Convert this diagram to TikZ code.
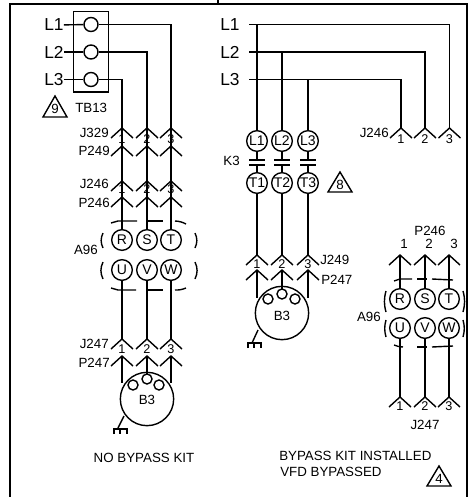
\documentclass[tikz,border=0pt]{standalone}
\usepackage{fontspec}
\setmainfont{Liberation Sans}
\tikzset{
  wire/.style={line width=1.05pt},
  frameline/.style={line width=1.3pt},
  term/.style={circle,draw,line width=1.05pt,minimum size=15.5pt,inner sep=0pt,font=\fontsize{10.5}{12}\selectfont},
  smallterm/.style={circle,draw,line width=1.05pt,minimum size=7.5pt,inner sep=0pt,fill=white},
  line label/.style={inner sep=0pt,font=\fontsize{13}{15}\selectfont},
  tag/.style={inner sep=0pt,font=\fontsize{10}{12}\selectfont},
  pinno/.style={inner sep=0pt,font=\fontsize{9.5}{11}\selectfont},
  warn/.style={draw,line width=1.05pt,line join=miter},
  kitdash/.style={line width=1.05pt}
}
% one connector leg: apex named #1, wings below it
\newcommand{\chevron}[3]{%
  \coordinate (#1) at (#2,#3);
  \draw[wire] (#2-11,#3+10) -- (#1) -- (#2+11,#3+10);
}
\begin{document}
\begin{tikzpicture}[x=0.75pt,y=-0.75pt]
\useasboundingbox (0,0) rectangle (474,497);
% frame
\draw[frameline] (10,497) -- (10,4) -- (467,4) -- (467,497);
\draw[wire] (218,0) -- (218,4);

% no bypass kit
\draw[wire] (73.5,11.5) rectangle (108.5,92);
\node[term,minimum size=10.5pt] (tb1) at (91,24.5) {};
\node[term,minimum size=10.5pt] (tb2) at (91,52) {};
\node[term,minimum size=10.5pt] (tb3) at (91,79.5) {};
\node[line label] (la1) at (54,25) {L1};
\node[line label] (la2) at (54,52) {L2};
\node[line label] (la3) at (54,79.5) {L3};
\draw[wire] (la1) -- (tb1);
\draw[wire] (la2) -- (tb2);
\draw[wire] (la3) -- (tb3);
\draw[warn] (55,96) -- (67,117) -- (43,117) -- cycle;
\node[tag] (n9) at (55,109) {9};
\node[tag,anchor=west] (tb13) at (75,108) {TB13};

\chevron{ja1}{122}{128}
\chevron{ja2}{147}{128}
\chevron{ja3}{171}{128}
\chevron{pa1}{122}{146}
\chevron{pa2}{147}{146}
\chevron{pa3}{171}{146}
\chevron{jb1}{122}{181}
\chevron{jb2}{147}{181}
\chevron{jb3}{171}{181}
\chevron{pb1}{122}{197}
\chevron{pb2}{147}{197}
\chevron{pb3}{171}{197}
\chevron{jc1}{122}{339}
\chevron{jc2}{147}{339}
\chevron{jc3}{171}{339}
\chevron{pc1}{122}{356}
\chevron{pc2}{147}{356}
\chevron{pc3}{171}{356}
\draw[wire] (tb1) -| (ja3);
\draw[wire] (tb2) -| (ja2);
\draw[wire] (tb3) -| (ja1);
\draw[wire] (ja1) -- (pb1);
\draw[wire] (ja2) -- (pb2);
\draw[wire] (ja3) -- (pb3);
\node[pinno] at (122,139) {1};
\node[pinno] at (147,139) {2};
\node[pinno] at (171,139) {3};
\node[pinno] at (122,189) {1};
\node[pinno] at (147,189) {2};
\node[pinno] at (171,189) {3};
\node[pinno] at (122,349) {1};
\node[pinno] at (147,349) {2};
\node[pinno] at (171,349) {3};
\node[tag,anchor=east] at (109,133) {J329};
\node[tag,anchor=east] at (110,151) {P249};
\node[tag,anchor=east] at (109,184) {J246};
\node[tag,anchor=east] at (110,203) {P246};
\node[tag,anchor=east] at (109,344) {J247};
\node[tag,anchor=east] at (110,363) {P247};

\node[term] (r1) at (122,240) {R};
\node[term] (s1) at (147,240) {S};
\node[term] (t1) at (171,240) {T};
\node[term] (u1) at (122,270) {U};
\node[term] (v1) at (147,270) {V};
\node[term] (w1) at (171,270) {W};
\draw[wire] (pb1) -- (r1);
\draw[wire] (pb2) -- (s1);
\draw[wire] (pb3) -- (t1);
\draw[wire] (u1) -- (jc1);
\draw[wire] (v1) -- (jc2);
\draw[wire] (w1) -- (jc3);
\node[tag,anchor=east] (a96a) at (98,250) {A96};
\draw[kitdash] (111,223) to[bend left=10] (118,221) -- (137,221);
\draw[kitdash] (147,221) -- (163,221);
\draw[kitdash] (175,221) to[bend left=12] (186,224);
\draw[kitdash] (103,233) to[bend right=25] (103,248);
\draw[kitdash] (103,262) to[bend right=25] (103,279);
\draw[kitdash] (195,233) to[bend left=25] (195,248);
\draw[kitdash] (195,262) to[bend left=25] (195,279);
\draw[kitdash] (111,288) to[bend right=10] (118,290) -- (136,290);
\draw[kitdash] (147,290) -- (163,290);
\draw[kitdash] (175,290) to[bend right=12] (186,288);

\node[circle,draw,wire,minimum size=40pt,inner sep=0pt] (m1) at (147,399) {};
\node[tag] (b3a) at (147,400) {B3};
\draw[wire] (pc1) -- (122,383);
\draw[wire] (pc2) -- (147,375);
\draw[wire] (pc3) -- (171,383);
\node[smallterm] (ma1) at (133,385) {};
\node[smallterm] (ma2) at (147,379) {};
\node[smallterm] (ma3) at (159,385) {};
\draw[wire] (124,416) -- (118,428);
\draw[wire] (114,434) -- (114,429) -- (127,429) -- (127,434) (120,429) -- (120,434);
\node[tag] at (144,458) {NO BYPASS KIT};

% bypass kit installed
\node[line label] (lb1) at (230,25) {L1};
\node[line label] (lb2) at (230,52) {L2};
\node[line label] (lb3) at (230,79.5) {L3};
\coordinate (st1) at (249,24.5);
\coordinate (st2) at (249,52);
\coordinate (st3) at (249,79.5);
\chevron{jd1}{401}{128}
\chevron{jd2}{425}{128}
\chevron{jd3}{449.5}{128}
\draw[wire] (st1) -| (jd3);
\draw[wire] (st2) -| (jd2);
\draw[wire] (st3) -| (jd1);
\node[pinno] at (401,139) {1};
\node[pinno] at (425,139) {2};
\node[pinno] at (449.5,139) {3};
\node[tag,anchor=east] at (389,133) {J246};

\node[term] (l1) at (257,141) {L1};
\node[term] (l2) at (282,141) {L2};
\node[term] (l3) at (308,141) {L3};
\node[term] (c1) at (257,183) {T1};
\node[term] (c2) at (282,183) {T2};
\node[term] (c3) at (308,183) {T3};
\coordinate (k1a) at (257,160);
\coordinate (k1b) at (257,165);
\coordinate (k2a) at (282,160);
\coordinate (k2b) at (282,165);
\coordinate (k3a) at (308,160);
\coordinate (k3b) at (308,165);
\draw[wire] (st1 -| l1) -- (l1);
\draw[wire] (st2 -| l2) -- (l2);
\draw[wire] (st3 -| l3) -- (l3);
\draw[wire] (l1) -- (k1a) (k1b) -- (c1);
\draw[wire] (l2) -- (k2a) (k2b) -- (c2);
\draw[wire] (l3) -- (k3a) (k3b) -- (c3);
\draw[wire] (249,160) -- (265,160) (249,165) -- (265,165);
\draw[wire] (274,160) -- (290,160) (274,165) -- (290,165);
\draw[wire] (300,160) -- (316,160) (300,165) -- (316,165);
\node[tag,anchor=east] at (240,161) {K3};
\draw[warn] (340,172) -- (352,192) -- (328,192) -- cycle;
\node[tag] (n8) at (340,185) {8};

\chevron{je1}{257}{255}
\chevron{je2}{282}{255}
\chevron{je3}{308}{255}
\chevron{pe1}{257}{270}
\chevron{pe2}{282}{270}
\chevron{pe3}{308}{270}
\draw[wire] (c1) -- (je1);
\draw[wire] (c2) -- (je2);
\draw[wire] (c3) -- (je3);
\node[pinno] at (257,264) {1};
\node[pinno] at (282,264) {2};
\node[pinno] at (308,264) {3};
\node[tag,anchor=west] at (320,260) {J249};
\node[tag,anchor=west] at (321,280) {P247};
\node[circle,draw,wire,minimum size=40pt,inner sep=0pt] (m2) at (282,313) {};
\node[tag] (b3b) at (282,316) {B3};
\draw[wire] (pe1) -- (257,298);
\draw[wire] (pe2) -- (282,290);
\draw[wire] (pe3) -- (308,298);
\node[smallterm] (mb1) at (268,299) {};
\node[smallterm] (mb2) at (282,294) {};
\node[smallterm] (mb3) at (295,299) {};
\draw[wire] (258,330) -- (252,343);
\draw[wire] (248,348) -- (248,343) -- (261,343) -- (261,348) (254,343) -- (254,348);

\node[tag] at (430,231) {P246};
\node[tag] at (404,244) {1};
\node[tag] at (429,244) {2};
\node[tag] at (454,244) {3};
\chevron{pf1}{400}{255}
\chevron{pf2}{425}{255}
\chevron{pf3}{449}{255}
\node[term] (r2) at (400,299) {R};
\node[term] (s2) at (425,299) {S};
\node[term] (t2) at (449,299) {T};
\node[term] (u2) at (400,328) {U};
\node[term] (v2) at (425,328) {V};
\node[term] (w2) at (449,328) {W};
\chevron{jf1}{400}{397}
\chevron{jf2}{425}{397}
\chevron{jf3}{449}{397}
\draw[wire] (pf1) -- (r2);
\draw[wire] (pf2) -- (s2);
\draw[wire] (pf3) -- (t2);
\draw[wire] (u2) -- (jf1);
\draw[wire] (v2) -- (jf2);
\draw[wire] (w2) -- (jf3);
\node[pinno] at (400,406) {1};
\node[pinno] at (425,406) {2};
\node[pinno] at (449,406) {3};
\node[tag] at (425,425) {J247};
\node[tag,anchor=east] at (381,317) {A96};
\draw[kitdash] (394,281) to[bend left=10] (400,279) -- (412,279);
\draw[kitdash] (417,279) -- (427,279);
\draw[kitdash] (432,279) -- (453,280);
\draw[kitdash] (386,291) to[bend right=15] (386,312);
\draw[kitdash] (386,320) to[bend right=15] (386,337);
\draw[kitdash] (463,291) to[bend left=15] (463,312);
\draw[kitdash] (463,320) to[bend left=15] (463,337);
\draw[kitdash] (394,345) to[bend right=10] (403,347);
\draw[kitdash] (417,347) -- (427,347);
\draw[kitdash] (432,347) -- (453,346);

\node[tag,anchor=west] at (279,456) {BYPASS KIT INSTALLED};
\node[tag,anchor=west] at (280,472) {VFD BYPASSED};
\draw[warn] (439,466) -- (451,486) -- (427,486) -- cycle;
\node[tag] (n4) at (439,479) {4};
\end{tikzpicture}
\end{document}
